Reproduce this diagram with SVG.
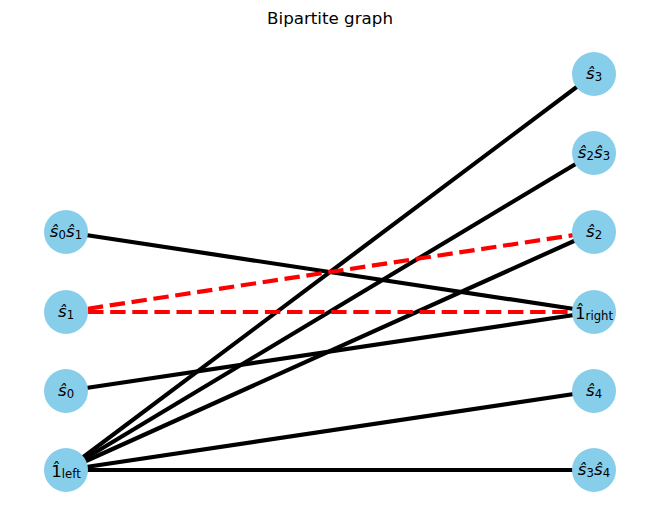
<svg xmlns="http://www.w3.org/2000/svg" width="660" height="522" viewBox="0 0 660 522">
<style>
.e{stroke:#000;stroke-width:4.17;fill:none;stroke-linecap:butt}
.d{stroke:#ff0000;stroke-width:4.17;fill:none;stroke-dasharray:15.4 6.7}
.n{fill:#87ceeb}
.t{font-family:"DejaVu Sans",sans-serif;font-size:16.7px;fill:#000;text-anchor:middle}
.i{font-style:italic}
.s{font-size:11.7px}
</style>
<rect width="660" height="522" fill="#fff"/>
<text x="330" y="24" class="t">Bipartite graph</text>
<g id="connectors">
<line class="e" x1="66" y1="232" x2="594" y2="312"/>
<line class="e" x1="66" y1="391" x2="594" y2="312"/>
<line class="e" x1="66" y1="470" x2="594" y2="74"/>
<line class="e" x1="66" y1="470" x2="594" y2="153"/>
<line class="e" x1="66" y1="470" x2="594" y2="232"/>
<line class="e" x1="66" y1="470" x2="594" y2="391"/>
<line class="e" x1="66" y1="470" x2="594" y2="470"/>
<line class="d" x1="66" y1="312" x2="594" y2="232"/>
<line class="d" x1="66" y1="312" x2="594" y2="312"/>
</g>
<g id="n_s0s1"><circle class="n" cx="66" cy="232" r="22"/><text class="t" x="66" y="237"><tspan class="i">ŝ</tspan><tspan class="s" dy="2">0</tspan><tspan class="i" dy="-2">ŝ</tspan><tspan class="s" dy="2">1</tspan></text></g>
<g id="n_s1"><circle class="n" cx="66" cy="312" r="22"/><text class="t" x="66" y="317"><tspan class="i">ŝ</tspan><tspan class="s" dy="2">1</tspan></text></g>
<g id="n_s0"><circle class="n" cx="66" cy="391" r="22"/><text class="t" x="66" y="396"><tspan class="i">ŝ</tspan><tspan class="s" dy="2">0</tspan></text></g>
<g id="n_1left"><circle class="n" cx="66" cy="470" r="22"/><text class="t" x="66" y="477"><tspan>1̂</tspan><tspan class="s" dy="1">left</tspan></text></g>
<g id="n_s3"><circle class="n" cx="594" cy="74" r="22"/><text class="t" x="594" y="79"><tspan class="i">ŝ</tspan><tspan class="s" dy="2">3</tspan></text></g>
<g id="n_s2s3"><circle class="n" cx="594" cy="153" r="22"/><text class="t" x="594" y="158"><tspan class="i">ŝ</tspan><tspan class="s" dy="2">2</tspan><tspan class="i" dy="-2">ŝ</tspan><tspan class="s" dy="2">3</tspan></text></g>
<g id="n_s2"><circle class="n" cx="594" cy="232" r="22"/><text class="t" x="594" y="237"><tspan class="i">ŝ</tspan><tspan class="s" dy="2">2</tspan></text></g>
<g id="n_1right"><circle class="n" cx="594" cy="312" r="22"/><text class="t" x="594" y="319"><tspan>1̂</tspan><tspan class="s" dy="1">right</tspan></text></g>
<g id="n_s4"><circle class="n" cx="594" cy="391" r="22"/><text class="t" x="594" y="396"><tspan class="i">ŝ</tspan><tspan class="s" dy="2">4</tspan></text></g>
<g id="n_s3s4"><circle class="n" cx="594" cy="470" r="22"/><text class="t" x="594" y="475"><tspan class="i">ŝ</tspan><tspan class="s" dy="2">3</tspan><tspan class="i" dy="-2">ŝ</tspan><tspan class="s" dy="2">4</tspan></text></g>
</svg>
